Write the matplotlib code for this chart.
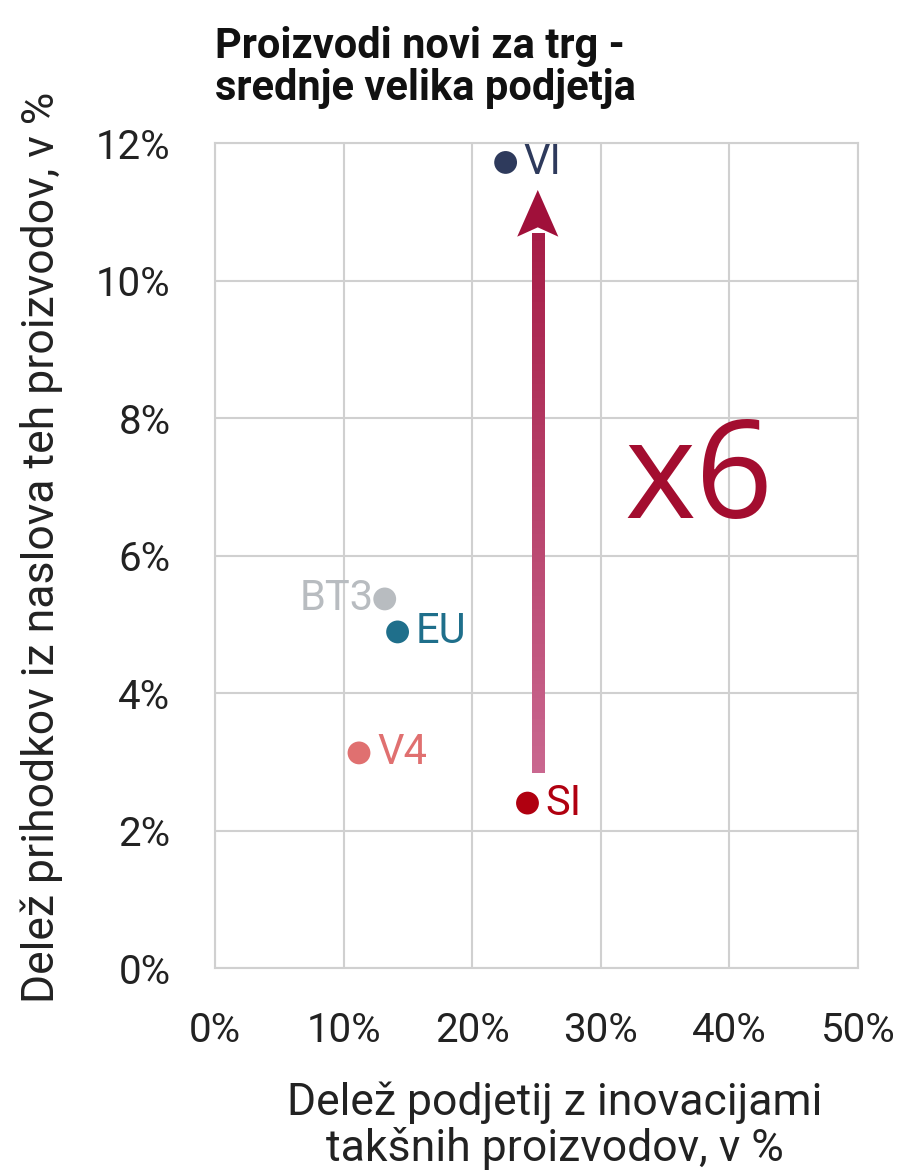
import numpy as np
import matplotlib
matplotlib.use('Agg')
import matplotlib.pyplot as plt
from matplotlib.collections import LineCollection
from matplotlib.colors import LinearSegmentedColormap
from matplotlib.patches import Polygon
from matplotlib.ticker import PercentFormatter

# data (percent)
labels = ['VI', 'BT3', 'EU', 'V4', 'SI']
share_firms = [22.6, 13.2, 14.2, 11.2, 24.3]
share_revenue = [11.72, 5.37, 4.89, 3.13, 2.40]
colors = ['#2E3A5C', '#B8BCC0', '#1F6F8B', '#E07070', '#B00010']
label_side = ['right', 'left', 'right', 'right', 'right']

x_ticks = [0, 10, 20, 30, 40, 50]
y_ticks = [0, 2, 4, 6, 8, 10, 12]

arrow_x = 25.1
arrow_from = 2.85
arrow_to = 11.32

plt.rcParams['font.family'] = ['Roboto', 'DejaVu Sans']

fig = plt.figure(figsize=(9.07, 11.70), dpi=100)
ax = fig.add_axes([0.237, 0.1726, 0.709, 0.705])

ax.set_xlim(0, 50)
ax.set_ylim(0, 12)
ax.set_xticks(x_ticks)
ax.set_yticks(y_ticks)
ax.xaxis.set_major_formatter(PercentFormatter(decimals=0))
ax.yaxis.set_major_formatter(PercentFormatter(decimals=0))
ax.grid(True, color='#D0D0D0', linewidth=1.5)
ax.set_axisbelow(True)
for s in ax.spines.values():
    s.set_color('#D0D0D0')
    s.set_linewidth(1.5)
ax.tick_params(length=0, labelsize=29, colors='#222222')
ax.tick_params(axis='x', pad=31)
ax.tick_params(axis='y', pad=32)

ax.scatter(share_firms, share_revenue, s=270, c=colors, zorder=3, linewidths=0)
for lab, xv, yv, c, side in zip(labels, share_firms, share_revenue, colors, label_side):
    if side == 'right':
        ax.annotate(lab, (xv, yv), xytext=(13, 0), textcoords='offset points',
                    ha='left', va='center', fontsize=30, color=c)
    else:
        ax.annotate(lab, (xv, yv), xytext=(-8, 0), textcoords='offset points',
                    ha='right', va='center', fontsize=30, color=c)

# gradient arrow (segments overlap a little so no seams show)
cmap = LinearSegmentedColormap.from_list('arr', ['#C9678F', '#A0103A'])
head_len = 0.68
ys = np.linspace(arrow_from, arrow_to - head_len + 0.05, 80)
n = len(ys)
segs = [[(arrow_x, ys[i]), (arrow_x, ys[min(i + 2, n - 1)])] for i in range(n - 1)]
lc = LineCollection(segs, colors=cmap(np.linspace(0, 0.85, len(segs))),
                    linewidths=8, capstyle='butt', zorder=2, antialiaseds=False)
ax.add_collection(lc)
hw = 1.6
head = Polygon([(arrow_x, arrow_to), (arrow_x - hw, arrow_to - head_len),
                (arrow_x, arrow_to - head_len * 0.8), (arrow_x + hw, arrow_to - head_len)],
               closed=True, color='#A0103A', zorder=2, linewidth=0)
ax.add_patch(head)

ax.text(37.6, 7.07, 'x6', fontsize=98, color='#A30D2F', ha='center', va='center',
        family=['Open Sans', 'DejaVu Sans'])

fig.text(0.237, 0.978, 'Proizvodi novi za trg -\nsrednje velika podjetja',
         ha='left', va='top', fontsize=30, fontweight='bold', color='#111111',
         linespacing=1.05)

fig.text(0.046, 0.532, 'Delež prihodkov iz naslova teh proizvodov, v %',
         rotation=90, ha='center', va='center', fontsize=32, color='#222222')
fig.text(0.612, 0.0376, 'Delež podjetij z inovacijami\ntakšnih proizvodov, v %',
         ha='center', va='center', fontsize=32, color='#222222', linespacing=1.1)

fig.savefig('out.png', dpi=100)
